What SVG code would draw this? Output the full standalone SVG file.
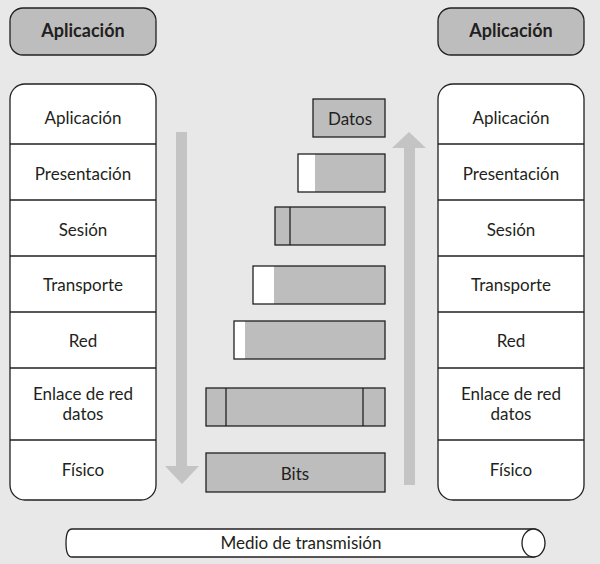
<svg xmlns="http://www.w3.org/2000/svg" width="600" height="564" viewBox="0 0 600 564">
<style>
.bg{fill:#e8e8e8}
.head{fill:#bdbdbd;stroke:#231f20;stroke-width:1.3}
.stack{fill:#ffffff;stroke:#231f20;stroke-width:1.3}
.div{stroke:#231f20;stroke-width:1.3}
.pdu{fill:#bdbdbd;stroke:#231f20;stroke-width:1.3}
.fill{fill:#bdbdbd}
.hdr{fill:#ffffff}
.frame{fill:none;stroke:#231f20;stroke-width:1.3}
.arrow{fill:#c4c4c4}
text{font-family:Lato,"Open Sans","DejaVu Sans",sans-serif;fill:#231f20;text-anchor:middle}
.t{font-size:17px}
.tb{font-size:18px;font-weight:bold}
</style>
<rect class="bg" x="0" y="0" width="600" height="564"/>
<g id="head-left"><rect class="head" x="10" y="8" width="146" height="47" rx="13"/><text class="tb" x="83" y="37">Aplicación</text></g>
<g id="head-right"><rect class="head" x="438" y="8" width="146" height="47" rx="13"/><text class="tb" x="511" y="37">Aplicación</text></g>
<g id="stack-left">
<rect class="stack" x="10" y="84" width="146" height="416" rx="15"/>
<line class="div" x1="10" y1="144" x2="156" y2="144"/>
<line class="div" x1="10" y1="200" x2="156" y2="200"/>
<line class="div" x1="10" y1="256" x2="156" y2="256"/>
<line class="div" x1="10" y1="312" x2="156" y2="312"/>
<line class="div" x1="10" y1="368" x2="156" y2="368"/>
<line class="div" x1="10" y1="440" x2="156" y2="440"/>
<text class="t" x="83" y="124">Aplicación</text>
<text class="t" x="83" y="180">Presentación</text>
<text class="t" x="83" y="236">Sesión</text>
<text class="t" x="83" y="291">Transporte</text>
<text class="t" x="83" y="347">Red</text>
<text class="t" x="83" y="400">Enlace de red</text>
<text class="t" x="83" y="420">datos</text>
<text class="t" x="83" y="476">Físico</text>
</g>
<g id="stack-right">
<rect class="stack" x="438" y="84" width="146" height="416" rx="15"/>
<line class="div" x1="438" y1="144" x2="584" y2="144"/>
<line class="div" x1="438" y1="200" x2="584" y2="200"/>
<line class="div" x1="438" y1="256" x2="584" y2="256"/>
<line class="div" x1="438" y1="312" x2="584" y2="312"/>
<line class="div" x1="438" y1="368" x2="584" y2="368"/>
<line class="div" x1="438" y1="440" x2="584" y2="440"/>
<text class="t" x="511" y="124">Aplicación</text>
<text class="t" x="511" y="180">Presentación</text>
<text class="t" x="511" y="236">Sesión</text>
<text class="t" x="511" y="291">Transporte</text>
<text class="t" x="511" y="347">Red</text>
<text class="t" x="511" y="400">Enlace de red</text>
<text class="t" x="511" y="420">datos</text>
<text class="t" x="511" y="476">Físico</text>
</g>
<g id="pdu-datos"><rect class="pdu" x="313" y="99" width="72" height="38"/><text class="t" x="350" y="125">Datos</text></g>
<g id="pdu-presentacion"><rect class="fill" x="298" y="154" width="87" height="38"/><rect class="hdr" x="298" y="154" width="17" height="38"/><rect class="frame" x="298" y="154" width="87" height="38"/></g>
<g id="pdu-sesion"><rect class="pdu" x="275" y="207" width="110" height="38"/><line class="div" x1="290" y1="207" x2="290" y2="245"/></g>
<g id="pdu-transporte"><rect class="fill" x="253" y="266" width="132" height="38"/><rect class="hdr" x="253" y="266" width="21" height="38"/><rect class="frame" x="253" y="266" width="132" height="38"/></g>
<g id="pdu-red"><rect class="fill" x="234" y="321" width="151" height="38"/><rect class="hdr" x="234" y="321" width="11" height="38"/><rect class="frame" x="234" y="321" width="151" height="38"/></g>
<g id="pdu-enlace"><rect class="pdu" x="206" y="388" width="179" height="38"/><line class="div" x1="226" y1="388" x2="226" y2="426"/><line class="div" x1="363" y1="388" x2="363" y2="426"/></g>
<g id="pdu-bits"><rect class="pdu" x="206" y="453" width="179" height="39"/><text class="t" x="295" y="480">Bits</text></g>
<g id="connectors">
<polygon class="arrow" points="176,132 187,132 187,466 199,466 182,484 165,466 176,466"/>
<polygon class="arrow" points="404,485 415,485 415,148 426,148 409,132 392,148 404,148"/>
</g>
<g id="medio">
<path d="M72,529 L533,529 A11.5,14 0 0 1 533,557 L72,557 Q66,557 66,543 Q66,529 72,529 Z" fill="#ffffff" stroke="#231f20" stroke-width="1.3"/>
<ellipse cx="533.5" cy="543" rx="11.5" ry="14" fill="#ffffff" stroke="#231f20" stroke-width="1.3"/>
<text class="t" x="301" y="549">Medio de transmisión</text>
</g>
</svg>
